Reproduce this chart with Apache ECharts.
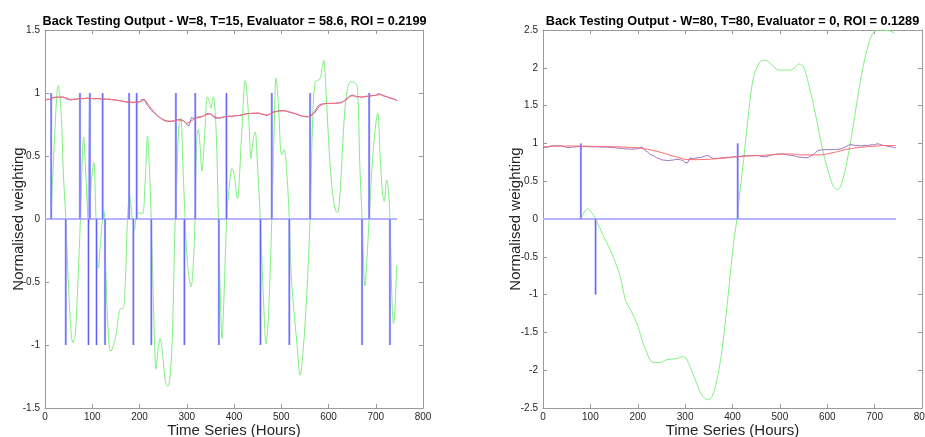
<!DOCTYPE html>
<html>
<head>
<meta charset="utf-8">
<script src="https://cdn.jsdelivr.net/npm/echarts@6/dist/echarts.min.js"></script>
<style>
html,body{margin:0;padding:0;background:#fff;}
#c{width:925px;height:437px;}
</style>
</head>
<body>
<div id="c"></div>
<script>
// ---------- DATA ----------
const titles = [
  'Back Testing Output - W=8, T=15, Evaluator = 58.6, ROI = 0.2199',
  'Back Testing Output - W=80, T=80, Evaluator = 0, ROI = 0.1289'
];
const xTitle = 'Time Series (Hours)';
const yTitle = 'Normalised weighting';

// normalised price, one value every 5 hours starting at hour 0
const priceStep = 5;
const priceValues = [
  0.945,0.950,0.948,0.962,0.966,0.968,0.965,0.969,0.966,0.955,
  0.948,0.944,0.952,0.950,0.955,0.958,0.954,0.957,0.960,0.955,
  0.956,0.953,0.956,0.955,0.951,0.953,0.950,0.952,0.948,0.945,
  0.944,0.940,0.937,0.935,0.930,0.925,0.930,0.922,0.926,0.928,
  0.930,0.948,0.950,0.910,0.890,0.860,0.845,0.830,0.810,0.800,
  0.785,0.778,0.776,0.772,0.778,0.780,0.788,0.790,0.782,0.775,
  0.748,0.742,0.806,0.798,0.802,0.810,0.812,0.815,0.830,0.838,
  0.835,0.815,0.800,0.802,0.800,0.808,0.812,0.810,0.818,0.812,
  0.820,0.822,0.820,0.826,0.830,0.835,0.838,0.836,0.840,0.838,
  0.842,0.838,0.830,0.825,0.822,0.830,0.845,0.852,0.855,0.860,
  0.858,0.862,0.856,0.850,0.845,0.840,0.835,0.828,0.820,0.815,
  0.812,0.810,0.815,0.835,0.845,0.880,0.905,0.912,0.915,0.918,
  0.916,0.918,0.917,0.919,0.921,0.924,0.930,0.945,0.960,0.975,
  0.985,0.978,0.968,0.972,0.965,0.970,0.975,0.972,0.978,0.982,
  0.980,0.995,0.990,0.978,0.972,0.968,0.958,0.955,0.948,0.940
];

// moving averages [hour, value]
const maLeft = [
  [0,0.945],[10,0.950],[20,0.963],[30,0.967],[40,0.966],[50,0.952],[60,0.948],[70,0.953],
  [80,0.956],[90,0.957],[100,0.956],[110,0.955],[120,0.953],[130,0.951],[140,0.949],[150,0.944],
  [160,0.938],[170,0.932],[180,0.927],[190,0.926],[200,0.929],[210,0.945],[220,0.900],[230,0.855],
  [240,0.815],[250,0.790],[260,0.777],[270,0.776],[280,0.785],[290,0.785],[300,0.760],[310,0.780],
  [320,0.800],[330,0.810],[340,0.825],[350,0.835],[360,0.810],[370,0.802],[380,0.810],[390,0.815],
  [400,0.818],[410,0.821],[420,0.828],[430,0.836],[440,0.839],[450,0.840],[460,0.834],[470,0.825],
  [480,0.840],[490,0.853],[500,0.858],[510,0.857],[520,0.847],[530,0.836],[540,0.822],[550,0.813],
  [560,0.814],[570,0.840],[580,0.890],[590,0.913],[600,0.917],[610,0.918],[620,0.920],[630,0.928],
  [640,0.955],[650,0.978],[660,0.973],[670,0.968],[680,0.973],[690,0.977],[700,0.982],[710,0.988],
  [720,0.975],[730,0.962],[740,0.950],[745,0.943]
];
const maRight = [
  [0,0.955],[30,0.965],[60,0.966],[100,0.962],[150,0.955],[200,0.940],[240,0.895],[280,0.825],
  [310,0.785],[340,0.788],[380,0.805],[410,0.825],[450,0.838],[480,0.848],[520,0.860],[550,0.848],
  [580,0.848],[610,0.875],[640,0.920],[670,0.948],[700,0.962],[720,0.972],[745,0.972]
];

// oscillator [hour, value]
const oscLeft = [
  [12.7,0],[19.7,0.59],[28,1.06],[34,0.85],[39,0.35],[44,0],[50,-0.55],[59,-0.98],[64,-0.92],[70,-0.47],
  [75,0],[82,0.65],[85,0.46],[89,0.14],[93,-0.03],[97,0.24],[103,0.45],[108,0],[113,-0.39],[117,-0.21],
  [122.5,0.03],[125,0.06],[128,-0.34],[134.5,-0.95],[139,-1.05],[148.6,-0.95],[160.6,-0.71],[165,-0.71],[170,-0.5],[174.6,0],
  [179,0.19],[184,0.03],[189,-0.09],[194,0.03],[199,0.05],[206,0.04],[212,0.3],[217,0.66],[221,0.4],[225.4,-0.07],
  [231,-0.87],[235,-1.19],[239.4,-1.03],[243.7,-0.95],[249,-1.08],[255,-1.29],[260,-1.33],[265,-1.24],[270,-0.87],[275,-0.07],
  [279,0.32],[283,0.72],[287.3,0.8],[291.5,0.46],[296.5,0],[301.4,-0.34],[309,-0.54],[314,-0.34],[317.6,0],[321,0.62],
  [324.6,0.71],[328,0.59],[332,0.38],[338,0.67],[343.7,0.97],[348,0.93],[351,0.88],[356,0.97],[362,0.72],[367,0],
  [371,-0.6],[374.6,-0.95],[379,-0.6],[384.5,0],[389.4,0.24],[396,0.4],[400,0.36],[407.6,0.16],[412,0.37],[416.8,0.72],
  [423.8,1.10],[430.7,0.83],[436,0.48],[440,0.62],[445,0.69],[448.5,0.51],[455.6,0],[462.6,-0.66],[468,-0.99],[473,-0.76],
  [480,0],[485,0.72],[489,1.12],[494,0.91],[501,0.51],[506,0.55],[512,0.35],[517,0],[522,-0.5],[533,-0.98],
  [540,-1.24],[546,-1.06],[554,-0.6],[561,0],[566,0.72],[572,1.09],[581.6,1.11],[586.5,1.2],[590,1.26],[594,1.07],
  [600,0.64],[607.6,0.24],[614.6,0.07],[619,0.05],[625,0.24],[632,0.72],[639,1.01],[647.5,1.09],[656.6,1.08],[661.5,1.04],
  [666,0.46],[671,0],[674,-0.34],[677,-0.53],[681,-0.34],[686,0],[692,0.4],[699,0.72],[704,0.84],[709.6,0.48],
  [714.6,0.19],[718,0.14],[723,0.31],[726.6,0.24],[730,0],[734,-0.6],[737.7,-0.83],[741,-0.69],[744,-0.37]
];
const oscRight = [
  [80,0],[87,0.09],[94.3,0.135],[102,0.09],[111,0],[128,-0.23],[142,-0.41],[156,-0.63],[163,-0.76],[174,-1.07],
  [184.4,-1.2],[198.5,-1.38],[209,-1.6],[220,-1.78],[230,-1.89],[244.6,-1.9],[261.7,-1.86],[279,-1.85],[297,-1.82],[307.5,-1.91],
  [321.5,-2.13],[335.6,-2.33],[347.5,-2.39],[356.7,-2.35],[367,-2.13],[378,-1.73],[385,-1.35],[391,-1.0],[397,-0.62],[403,-0.28],
  [409.5,0],[416,0.38],[423.6,0.79],[434,1.40],[444.5,1.88],[458.6,2.08],[469,2.10],[483,2.04],[497.4,1.97],[522,1.97],
  [532.5,2.01],[541.6,2.05],[550,2.01],[560.6,1.79],[574.7,1.40],[588.7,0.96],[602.8,0.61],[613.4,0.43],[621.8,0.39],[631,0.48],
  [645,0.87],[659,1.40],[673,1.93],[687.5,2.32],[698,2.47],[712,2.5],[730,2.49],[742,2.46]
];

// trade signals (hours of +1 / -1 spikes)
const buyLeft  = [13,74,95,122,178,194,277,318,384,480,561,686];
const sellLeft = [44,92,109,127,187,225,295,368,456,517,671,730];
const buyRight  = [80,411];
const sellRight = [111];
const signalEnd = 745;

const xTicks = {min:0, max:800, interval:100};
const yTicksLeft = {min:-1.5, max:1.5, interval:0.5};
const yTicksRight = {min:-2.5, max:2.5, interval:0.5};

// ---------- BUILD ----------
const FONT = 'Liberation Sans, Arial, Helvetica, sans-serif';
const priceData = priceValues.map((v,i)=>[i*priceStep, v]);

function signalPath(buys, sells){
  const ev = buys.map(h=>[h,1]).concat(sells.map(h=>[h,-1])).sort((a,b)=>a[0]-b[0]);
  const d = [[0,0]];
  ev.forEach(e=>{ d.push([e[0],0]); d.push([e[0],e[1]]); d.push([e[0],0]); });
  d.push([signalEnd,0]);
  return d;
}
function spikeOnly(buys, sells){
  const ev = buys.map(h=>[h,1]).concat(sells.map(h=>[h,-1])).sort((a,b)=>a[0]-b[0]);
  const d = [];
  ev.forEach(e=>{ d.push([e[0],0]); d.push([e[0],e[1]]); d.push([e[0],'-']); });
  return d;
}

const axisCol = '#9a9a9a';
const labCol = '#262626';
function xAx(gi, pos){
  return {
    type:'value', gridIndex:gi, position:pos, min:xTicks.min, max:xTicks.max, interval:xTicks.interval,
    axisLine:{show:true, onZero:false, lineStyle:{color:axisCol, width:1}},
    axisTick:{show:true, inside:true, length:4, lineStyle:{color:axisCol}},
    splitLine:{show:false},
    axisLabel:{show: pos==='bottom', color:labCol, fontSize:10, fontFamily:FONT, margin:4},
    name: pos==='bottom' ? xTitle : '', nameLocation:'middle', nameGap:15, nameMoveOverlap:false,
    nameTextStyle:{fontSize:15, color:labCol, fontFamily:FONT}
  };
}
function yAx(gi, pos, t, gap){
  return {
    type:'value', gridIndex:gi, position:pos, min:t.min, max:t.max, interval:t.interval,
    axisLine:{show:true, onZero:false, lineStyle:{color:axisCol, width:1}},
    axisTick:{show:true, inside:true, length:4, lineStyle:{color:axisCol}},
    splitLine:{show:false},
    axisLabel:{show: pos==='left', color:labCol, fontSize:10, fontFamily:FONT, margin:5},
    name: pos==='left' ? yTitle : '', nameLocation:'middle', nameGap:gap, nameMoveOverlap:false,
    nameTextStyle:{fontSize:15, color:labCol, fontFamily:FONT}
  };
}

function seriesFor(xi, yi, osc, ma, buys, sells, maSmooth){
  return [
    {type:'line', xAxisIndex:xi, yAxisIndex:yi, data:osc, smooth:0.35, showSymbol:false, symbol:'none',
     lineStyle:{color:'#80f080', width:1}, z:2, silent:true, animation:false},
    {type:'line', xAxisIndex:xi, yAxisIndex:yi, data:signalPath(buys,sells), showSymbol:false, symbol:'none',
     lineStyle:{color:'#b3b3ff', width:2.2}, z:3, silent:true, animation:false},
    {type:'line', xAxisIndex:xi, yAxisIndex:yi, data:spikeOnly(buys,sells), showSymbol:false, symbol:'none', connectNulls:false,
     lineStyle:{color:'#4a4aff', width:1, opacity:0.8}, z:4, silent:true, animation:false},
    {type:'line', xAxisIndex:xi, yAxisIndex:yi, data:priceData, showSymbol:false, symbol:'none',
     lineStyle:{color:'#9d6fc6', width:1}, z:5, silent:true, animation:false},
    {type:'line', xAxisIndex:xi, yAxisIndex:yi, data:ma, smooth:maSmooth, showSymbol:false, symbol:'none',
     lineStyle:{color:'#ff6a6a', width:1}, z:6, silent:true, animation:false}
  ];
}

const chart = echarts.init(document.getElementById('c'), null, {renderer:'canvas'});
chart.setOption({
  backgroundColor:'#ffffff',
  animation:false,
  textStyle:{fontFamily:FONT},
  title:[
    {text:titles[0], left:234.5, top:15, textAlign:'center', padding:0,
     textStyle:{fontSize:12.7, fontWeight:'bold', color:'#000', fontFamily:FONT}},
    {text:titles[1], left:732.5, top:15, textAlign:'center', padding:0,
     textStyle:{fontSize:12.7, fontWeight:'bold', color:'#000', fontFamily:FONT}}
  ],
  grid:[
    {left:45, top:30, width:378, height:378, containLabel:false, outerBoundsMode:'none'},
    {left:543, top:30, width:379, height:378, containLabel:false, outerBoundsMode:'none'}
  ],
  xAxis:[xAx(0,'bottom'), xAx(0,'top'), xAx(1,'bottom'), xAx(1,'top')],
  yAxis:[yAx(0,'left',yTicksLeft,19), yAx(0,'right',yTicksLeft,19), yAx(1,'left',yTicksRight,20), yAx(1,'right',yTicksRight,20)],
  series: seriesFor(0,0,oscLeft,maLeft,buyLeft,sellLeft,0.3)
    .concat(seriesFor(2,2,oscRight,maRight,buyRight,sellRight,0.5))
});
</script>
</body>
</html>
